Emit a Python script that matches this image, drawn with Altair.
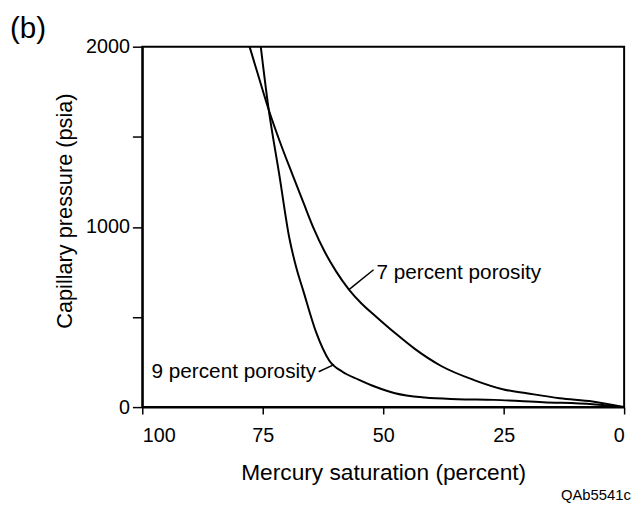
import altair as alt
import pandas as pd

# 7 percent porosity curve (mercury saturation %, capillary pressure psia)
sat7 = [77.73, 75.82, 73.83, 71.31, 68.71, 66.39, 64.34, 62.30, 59.84, 57.11, 54.51, 51.64,
        47.54, 43.44, 37.97, 31.15, 25.0, 20.23, 13.38, 6.56, 0.0]
pc7 = [2000, 1830, 1656, 1463, 1282, 1123, 986, 870, 756, 652, 575, 506,
       411, 323, 228, 150, 98, 77, 49, 31, 0]

# 9 percent porosity curve
sat9 = [75.41, 73.98, 71.52, 69.47, 68.03, 66.66, 63.93, 61.21, 58.46, 55.12, 51.64,
        47.54, 41.39, 34.57, 27.05, 16.8, 6.56, 0.0]
pc9 = [2000, 1693, 1282, 937, 773, 652, 416, 259, 196, 153, 113,
       77, 53, 44, 40, 27, 16, 0]

labels = ["7 percent porosity", "9 percent porosity"]
label_sat = [51.4, 63.9]
label_pc = [712, 159]
label_align = ["left", "right"]
leader_sat = [57.11, 52.0, 60.2, 63.4]
leader_pc = [652, 762, 236, 196]
leader_id = ["a", "a", "b", "b"]

x_ticks = [100, 75, 50, 25, 0]
y_ticks = [0, 500, 1000, 1500, 2000]

FONT = "Liberation Sans"

curves = pd.concat([
    pd.DataFrame({"sat": sat7, "pc": pc7, "series": "7", "ord": range(len(sat7))}),
    pd.DataFrame({"sat": sat9, "pc": pc9, "series": "9", "ord": range(len(sat9))}),
])
leaders = pd.DataFrame({"sat": leader_sat, "pc": leader_pc, "id": leader_id})
lab = pd.DataFrame({"text": labels, "sat": label_sat, "pc": label_pc, "align": label_align})

xscale = alt.Scale(domain=[0, 100], reverse=True, nice=False)
yscale = alt.Scale(domain=[0, 2000], nice=False)

xaxis = alt.Axis(values=x_ticks, title="Mercury saturation (percent)", format="d",
                 grid=False, tickSize=7, labelPadding=12, titlePadding=16,
                 titleFontSize=23)
yaxis = alt.Axis(values=y_ticks, title="Capillary pressure (psia)", format="d",
                 grid=False, tickSize=10, labelPadding=3, titlePadding=9,
                 titleFontSize=22, titleY=166,
                 labelExpr="datum.value % 1000 == 0 ? datum.label : ''")

lines = alt.Chart(curves).mark_line(color="black", strokeWidth=2, interpolate="monotone").encode(
    x=alt.X("sat:Q", scale=xscale, axis=xaxis),
    y=alt.Y("pc:Q", scale=yscale, axis=yaxis),
    detail="series:N",
    order="ord:Q",
)

lead = alt.Chart(leaders).mark_line(color="black", strokeWidth=1.5).encode(
    x=alt.X("sat:Q", scale=xscale), y=alt.Y("pc:Q", scale=yscale), detail="id:N"
)

text_left = alt.Chart(lab[lab["align"] == "left"]).mark_text(
    align="left", baseline="alphabetic", fontSize=21, font=FONT, color="black"
).encode(x=alt.X("sat:Q", scale=xscale), y=alt.Y("pc:Q", scale=yscale), text="text:N")

text_right = alt.Chart(lab[lab["align"] == "right"]).mark_text(
    align="right", baseline="alphabetic", fontSize=21, font=FONT, color="black"
).encode(x=alt.X("sat:Q", scale=xscale), y=alt.Y("pc:Q", scale=yscale), text="text:N")

panel = alt.Chart(pd.DataFrame({"t": ["(b)"]})).mark_text(
    align="left", baseline="middle", fontSize=30, font=FONT, color="black"
).encode(x=alt.value(-134), y=alt.value(-18), text="t:N")

code = alt.Chart(pd.DataFrame({"t": ["QAb5541c"]})).mark_text(
    align="left", baseline="middle", fontSize=15, font=FONT, color="black"
).encode(x=alt.value(424), y=alt.value(454), text="t:N")

chart = alt.layer(lines, lead, text_left, text_right, panel, code).properties(
    width=488, height=365,
    background="white",
    autosize=alt.AutoSizeParams(type="none"),
    padding={"left": 136, "top": 36, "right": 10, "bottom": 99},
).configure_view(
    stroke="black", strokeWidth=2
).configure_axis(
    domainColor="black", domainWidth=2, tickColor="black", tickWidth=1.5,
    labelColor="black", titleColor="black", labelFont=FONT, titleFont=FONT,
    labelFontSize=20, titleFontWeight="normal",
)

chart.save("out.html", embed_options={"renderer": "svg", "actions": False})
